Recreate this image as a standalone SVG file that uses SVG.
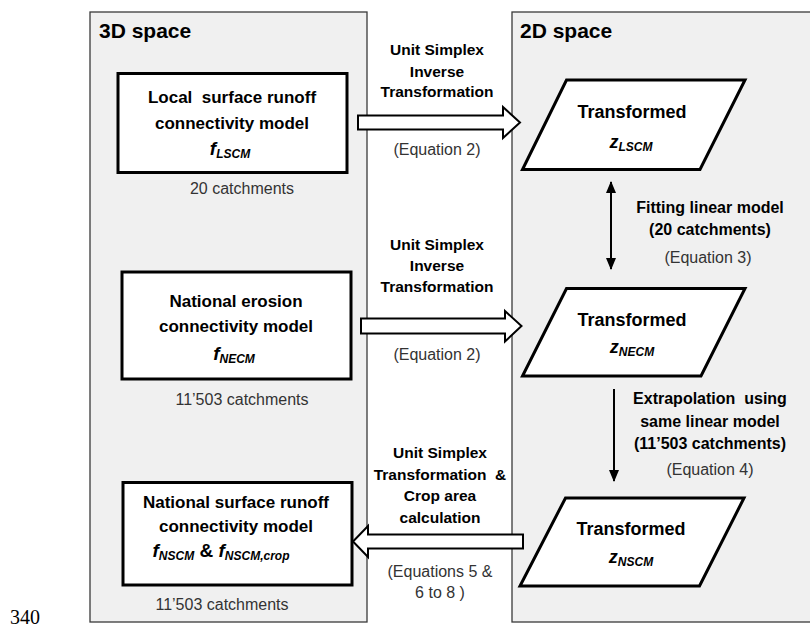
<svg xmlns="http://www.w3.org/2000/svg" width="810" height="629" viewBox="0 0 810 629">
<style>
.panel{fill:#f0f0f0;stroke:#3a3a3a;stroke-width:1.3}
.box{fill:#fff;stroke:#000;stroke-width:3}
.para{fill:#fff;stroke:#000;stroke-width:3;stroke-linejoin:miter}
.blk{fill:#fff;stroke:#000;stroke-width:2;stroke-linejoin:miter}
.conn{stroke:#000;stroke-width:2;fill:none}
text{font-family:"Liberation Sans",Arial,sans-serif;fill:#000}
.title{font-size:21px;font-weight:bold}
.bt{font-size:17px;font-weight:bold;text-anchor:middle}
.ml{font-size:15.5px;font-weight:bold;text-anchor:middle;white-space:pre}
.rl{font-size:16px;font-weight:bold;text-anchor:middle;white-space:pre}
.eq{font-size:16px;text-anchor:middle;fill:#333}
.tr{font-size:18px;font-weight:bold;text-anchor:middle}
.fi{font-size:19px;font-weight:bold;font-style:italic}
.zi{font-size:18px;font-weight:bold;font-style:italic}
.sb{font-size:12px;font-weight:bold;font-style:italic}
.amp{font-size:19px;font-weight:bold}
text.pg{font-family:"Liberation Serif","Times New Roman",serif;font-size:20px}
</style>
<defs>
<marker id="ah" viewBox="0 0 12 10" refX="11" refY="5" markerWidth="12" markerHeight="10" markerUnits="userSpaceOnUse" orient="auto-start-reverse">
<path d="M0,0 L12,5 L0,10 Z" fill="#000"/>
</marker>
</defs>

<g id="panel-3d">
<rect class="panel" x="90" y="12" width="277" height="610"/>
<text class="title" x="99" y="38">3D space</text>
</g>
<g id="panel-2d">
<rect class="panel" x="512" y="12" width="320" height="610"/>
<text class="title" x="520" y="38">2D space</text>
</g>

<g id="connectors">
<g id="arrow-lscm">
<polygon class="blk" points="358,115.5 503,115.5 503,107 520,122.5 503,138 503,129.5 358,129.5"/>
<text class="ml" x="437" y="55">Unit Simplex</text>
<text class="ml" x="437" y="76.5">Inverse</text>
<text class="ml" x="437" y="97">Transformation</text>
<text class="eq" x="437" y="155">(Equation 2)</text>
</g>
<g id="arrow-necm">
<polygon class="blk" points="361,318.5 505,318.5 505,311 521.5,326 505,341.5 505,333.5 361,333.5"/>
<text class="ml" x="437" y="250">Unit Simplex</text>
<text class="ml" x="437" y="271">Inverse</text>
<text class="ml" x="437" y="292">Transformation</text>
<text class="eq" x="437" y="360">(Equation 2)</text>
</g>
<g id="arrow-nscm">
<polygon class="blk" points="523,534.5 368,534.5 368,526 353,541.5 368,557 368,548.5 523,548.5"/>
<text class="ml" x="440" y="458">Unit Simplex</text>
<text class="ml" x="440" y="479.5">Transformation  &amp;</text>
<text class="ml" x="440" y="501">Crop area</text>
<text class="ml" x="440" y="522.5">calculation</text>
<text class="eq" x="440" y="577">(Equations 5 &amp;</text>
<text class="eq" x="440" y="598">6 to 8 )</text>
</g>
<g id="arrow-fit">
<line class="conn" x1="611" y1="182" x2="611" y2="269" marker-start="url(#ah)" marker-end="url(#ah)"/>
<text class="rl" x="710" y="213">Fitting linear model</text>
<text class="rl" x="710" y="235">(20 catchments)</text>
<text class="eq" x="708" y="263">(Equation 3)</text>
</g>
<g id="arrow-extrap">
<line class="conn" x1="614" y1="389" x2="614" y2="481" marker-end="url(#ah)"/>
<text class="rl" x="710" y="404">Extrapolation  using</text>
<text class="rl" x="710" y="426.5">same linear model</text>
<text class="rl" x="710" y="449">(11’503 catchments)</text>
<text class="eq" x="710" y="475">(Equation 4)</text>
</g>
</g>

<g id="node-lscm">
<rect class="box" x="118" y="73.5" width="229" height="99"/>
<text class="bt" x="232" y="103" style="white-space:pre">Local  surface runoff</text>
<text class="bt" x="232" y="129">connectivity model</text>
<text x="230" y="155" text-anchor="middle"><tspan class="fi">f</tspan><tspan class="sb" dy="3">LSCM</tspan></text>
<text class="eq" x="242" y="194">20 catchments</text>
</g>

<g id="node-necm">
<rect class="box" x="122" y="272" width="229" height="107"/>
<text class="bt" x="236" y="307">National erosion</text>
<text class="bt" x="236" y="332">connectivity model</text>
<text x="234" y="360" text-anchor="middle"><tspan class="fi">f</tspan><tspan class="sb" dy="3">NECM</tspan></text>
<text class="eq" x="242" y="405">11’503 catchments</text>
</g>

<g id="node-nscm">
<rect class="box" x="123" y="482.5" width="229" height="102.5"/>
<text class="bt" x="236" y="508">National surface runoff</text>
<text class="bt" x="236" y="532">connectivity model</text>
<text x="221" y="557" text-anchor="middle"><tspan class="fi">f</tspan><tspan class="sb" dy="3">NSCM</tspan><tspan class="amp" dy="-3"> &amp; </tspan><tspan class="fi">f</tspan><tspan class="sb" dy="3">NSCM,crop</tspan></text>
<text class="eq" x="222" y="610">11’503 catchments</text>
</g>

<g id="node-zlscm">
<polygon class="para" points="566.5,80 745,80 700,169.5 522.5,169.5"/>
<text class="tr" x="632" y="118">Transformed</text>
<text x="631" y="148" text-anchor="middle"><tspan class="zi">z</tspan><tspan class="sb" dy="3">LSCM</tspan></text>
</g>

<g id="node-znecm">
<polygon class="para" points="566.5,288.5 745,288.5 701,376 522.5,376"/>
<text class="tr" x="632" y="326">Transformed</text>
<text x="632" y="353" text-anchor="middle"><tspan class="zi">z</tspan><tspan class="sb" dy="3">NECM</tspan></text>
</g>

<g id="node-znscm">
<polygon class="para" points="565.5,498 744,498 699.5,586 520,586"/>
<text class="tr" x="631" y="535">Transformed</text>
<text x="631" y="563" text-anchor="middle"><tspan class="zi">z</tspan><tspan class="sb" dy="3">NSCM</tspan></text>
</g>

<text class="pg" x="10" y="624">340</text>
</svg>
